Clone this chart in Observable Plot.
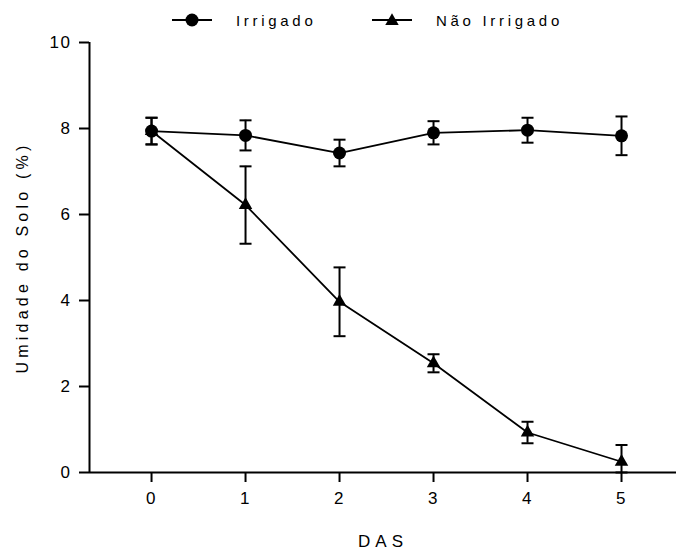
<!DOCTYPE html>
<html>
<head>
<meta charset="utf-8">
<script src="https://cdn.jsdelivr.net/npm/d3@7"></script>
<script src="https://cdn.jsdelivr.net/npm/@observablehq/plot@0.6"></script>
<style>
  html, body { margin: 0; padding: 0; background: #fff; }
  #wrap { position: relative; width: 676px; height: 553px; font-family: "Liberation Sans", Arial, sans-serif; }
  #legend { position: absolute; left: 0; top: 0; width: 676px; height: 40px; }
  .item { position: absolute; top: 10px; height: 20px; display: flex; align-items: center; }
  .item span { font-size: 15px; letter-spacing: 3.7px; color: #000; margin-left: 24px; }
</style>
</head>
<body>
<div id="wrap">
  <div id="chart"></div>
  <div id="legend"></div>
</div>
<script>
const days = [0, 1, 2, 3, 4, 5];
const irrigado = [7.94, 7.84, 7.43, 7.90, 7.96, 7.83];
const irrigadoErr = [0.31, 0.35, 0.31, 0.27, 0.29, 0.45];
const naoIrrigado = [7.94, 6.22, 3.97, 2.54, 0.93, 0.25];
const naoIrrigadoErr = [0.31, 0.90, 0.80, 0.21, 0.25, 0.39];
const seriesNames = ["Irrigado", "Não Irrigado"];
const xTicks = [0, 1, 2, 3, 4, 5];
const yTicks = [0, 2, 4, 6, 8, 10];
const xDomain = [-0.66, 5.585];
const yDomain = [0, 10];
const xLabel = "DAS";
const yLabel = "Umidade do Solo (%)";

const rows = [];
days.forEach((d, i) => {
  rows.push({serie: seriesNames[1], x: d, y: naoIrrigado[i], lo: Math.max(0, naoIrrigado[i] - naoIrrigadoErr[i]), hi: naoIrrigado[i] + naoIrrigadoErr[i]});
});
days.forEach((d, i) => {
  rows.push({serie: seriesNames[0], x: d, y: irrigado[i], lo: irrigado[i] - irrigadoErr[i], hi: irrigado[i] + irrigadoErr[i]});
});
const irr = rows.filter(r => r.serie === seriesNames[0]);
const nao = rows.filter(r => r.serie === seriesNames[1]);

const cap = { draw(ctx, size) { const w = Math.sqrt(size / Math.PI); ctx.moveTo(-w, 0); ctx.lineTo(w, 0); } };

const font = "'Liberation Sans', Arial, sans-serif";

const chart = Plot.plot({
  width: 676,
  height: 553,
  marginLeft: 89,
  marginRight: 0,
  marginTop: 42,
  marginBottom: 81,
  style: { fontFamily: font, fontSize: "16px", background: "#fff", color: "#000" },
  x: { domain: xDomain },
  y: { domain: yDomain },
  marks: [
    Plot.axisX({ ticks: xTicks, tickFormat: d => String(d), tickSize: 10, tickPadding: 9, fontSize: 17, strokeWidth: 2, label: null }),
    Plot.axisY({ ticks: yTicks, tickFormat: d => String(d), tickSize: 10, tickPadding: 8, fontSize: 17, strokeWidth: 2, label: null }),
    Plot.ruleY([yDomain[0]], { stroke: "#000", strokeWidth: 2 }),
    Plot.ruleX([xDomain[0]], { stroke: "#000", strokeWidth: 2 }),
    // error bars
    Plot.ruleX(rows, { x: "x", y1: "lo", y2: "hi", stroke: "#000", strokeWidth: 2 }),
    Plot.dot(rows, { x: "x", y: "hi", symbol: cap, r: 6, stroke: "#000", strokeWidth: 2, fill: "none" }),
    Plot.dot(rows, { x: "x", y: "lo", symbol: cap, r: 6, stroke: "#000", strokeWidth: 2, fill: "none" }),
    // lines
    Plot.line(nao, { x: "x", y: "y", stroke: "#000", strokeWidth: 1.8 }),
    Plot.line(irr, { x: "x", y: "y", stroke: "#000", strokeWidth: 1.8 }),
    Plot.dot(nao, { x: "x", y: "y", symbol: "triangle", r: 5, fill: "#000", stroke: "none" }),
    Plot.dot(irr, { x: "x", y: "y", symbol: "circle", r: 6.5, fill: "#000", stroke: "none" }),
    // axis labels
    Plot.text([xLabel], { frameAnchor: "bottom", dy: 74, fontSize: 17, fill: "#000" }),
    Plot.text([yLabel], { frameAnchor: "left", textAnchor: "middle", dx: -67, rotate: -90, fontSize: 16, fill: "#000" })
  ]
});
chart.querySelectorAll("text").forEach(t => {
  if (t.textContent === xLabel) t.setAttribute("letter-spacing", "5px");
  else if (t.textContent === yLabel) t.setAttribute("letter-spacing", "4.2px");
  else if (/^\d+$/.test(t.textContent)) t.setAttribute("letter-spacing", "1.5px");
});
document.getElementById("chart").appendChild(chart);

// legend
const legend = document.getElementById("legend");
const legendItems = [
  { name: seriesNames[0], left: 172, symbol: "circle" },
  { name: seriesNames[1], left: 372, symbol: "triangle" }
];
legendItems.forEach(it => {
  const div = document.createElement("div");
  div.className = "item";
  div.style.left = it.left + "px";
  const sym = it.symbol === "circle"
    ? '<circle cx="20" cy="10" r="6.5" fill="#000"/>'
    : '<path transform="translate(20,11)" d="' + d3.symbol(d3.symbolTriangle, 5 * 5 * Math.PI)() + '" fill="#000"/>';
  div.innerHTML = '<svg width="40" height="20"><line x1="0" x2="40" y1="10" y2="10" stroke="#000" stroke-width="2"/>' + sym + '</svg><span>' + it.name + '</span>';
  legend.appendChild(div);
});
</script>
</body>
</html>
